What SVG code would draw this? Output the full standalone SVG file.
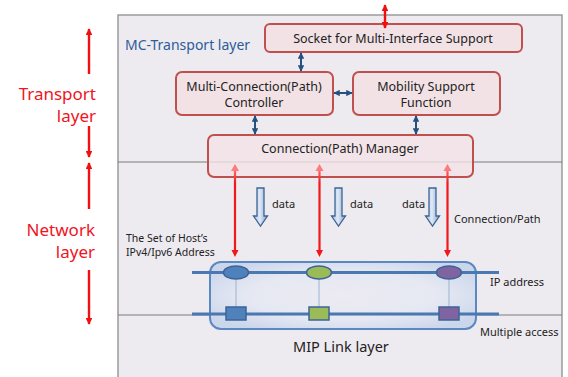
<svg xmlns="http://www.w3.org/2000/svg" width="568" height="377" viewBox="0 0 568 377">
<defs>
<style>
.t{font-family:"Noto Sans","Open Sans",sans-serif;fill:#222}
.red{font-family:"Noto Sans","Open Sans",sans-serif;fill:#f0141e;font-size:17px;text-anchor:end}
.box{fill:#f2e2e6;stroke:#c0504d;stroke-width:2}
.ba{stroke:#25507f;stroke-width:2;marker-start:url(#bh);marker-end:url(#bh)}
.ra{stroke:#f01010;stroke-width:2.4}
.da{fill:url(#dg);stroke:#3c6494;stroke-width:1.3}
.bl{stroke:#4a79b2;stroke-width:3}
.vl{stroke:#a6bcd8;stroke-width:1.2}
.gl{stroke:url(#rg);stroke-width:2.2;fill:none}
</style>
<marker id="bh" viewBox="0 0 10 10" refX="9" refY="5" markerWidth="3.2" markerHeight="3.2" orient="auto-start-reverse"><path d="M0,0L10,5L0,10z" fill="#25507f"/></marker>
<marker id="rh" viewBox="0 0 10 10" refX="9" refY="5" markerWidth="2.8" markerHeight="2.8" orient="auto-start-reverse"><path d="M0,0L10,5L0,10z" fill="#f01010"/></marker>
<linearGradient id="dg" x1="0" x2="1" y1="0" y2="0"><stop offset="0" stop-color="#a9c0e0"/><stop offset="0.45" stop-color="#e0e9f6"/><stop offset="1" stop-color="#85a4cf"/></linearGradient>
<linearGradient id="rg" gradientUnits="userSpaceOnUse" x1="0" x2="0" y1="165" y2="256"><stop offset="0" stop-color="#ff8a8a"/><stop offset="0.2" stop-color="#f01818"/><stop offset="1" stop-color="#f01818"/></linearGradient>
<radialGradient id="mg" cx="0.5" cy="0.5" r="0.6"><stop offset="0" stop-color="#eceaf2"/><stop offset="0.6" stop-color="#e4e8f3"/><stop offset="1" stop-color="#c5d2ea"/></radialGradient>
</defs>
<rect width="568" height="377" fill="#fff"/>
<g id="panel">
<rect x="118" y="15" width="444" height="365" fill="#edebf0" stroke="#9a9a9a" stroke-width="1.5"/>
<line x1="118" y1="162" x2="562" y2="162" stroke="#7a7a7a" stroke-width="1"/>
<line x1="118" y1="315" x2="562" y2="315" stroke="#7a7a7a" stroke-width="1"/>
<text class="t" x="125" y="50" font-size="14" style="fill:#2e5c9a">MC-Transport layer</text>
</g>
<g id="left-labels">
<text class="red" x="96" y="100">Transport</text>
<text class="red" x="96" y="122">layer</text>
<text class="red" x="95" y="236">Network</text>
<text class="red" x="95" y="258">layer</text>
</g>
<g id="socket"><rect class="box" x="265" y="24" width="257" height="28" rx="5"/><text class="t" x="393" y="43" font-size="12.5" text-anchor="middle">Socket for Multi-Interface Support</text></g>
<g id="mcc"><rect class="box" x="176" y="72" width="157" height="43" rx="6"/><text class="t" x="254" y="91" font-size="12.5" text-anchor="middle">Multi-Connection(Path)</text><text class="t" x="254" y="107" font-size="12.5" text-anchor="middle">Controller</text></g>
<g id="msf"><rect class="box" x="353" y="72" width="147" height="43" rx="6"/><text class="t" x="426" y="91" font-size="12.5" text-anchor="middle">Mobility Support</text><text class="t" x="426" y="107" font-size="12.5" text-anchor="middle">Function</text></g>
<g id="manager"><rect class="box" x="208" y="135" width="265" height="42" rx="6" style="fill-opacity:0.8"/><text class="t" x="340" y="153" font-size="12.5" text-anchor="middle">Connection(Path) Manager</text></g>
<g id="mip">
<rect x="210" y="262" width="266" height="67" rx="11" fill="url(#mg)" fill-opacity="0.85" stroke="#5a88c2" stroke-width="2"/>
<line class="bl" x1="192" y1="272.5" x2="499" y2="272.5"/>
<line class="bl" x1="192" y1="314" x2="499" y2="314"/>
<line class="vl" x1="236" y1="272" x2="236" y2="314"/>
<line class="vl" x1="319" y1="272" x2="319" y2="314"/>
<line class="vl" x1="449" y1="272" x2="449" y2="314"/>
<ellipse cx="236" cy="272.5" rx="12.5" ry="6.5" fill="#4f81bd" stroke="#3d6496" stroke-width="1.5"/>
<ellipse cx="319" cy="272.5" rx="12.5" ry="6.5" fill="#9bbb59" stroke="#3d6496" stroke-width="1.5"/>
<ellipse cx="449" cy="272.5" rx="12.5" ry="6.5" fill="#8064a2" stroke="#3d6496" stroke-width="1.5"/>
<rect x="226" y="307" width="20" height="13" fill="#4f81bd" stroke="#3d6496" stroke-width="1.5"/>
<rect x="309" y="307" width="20" height="13" fill="#9bbb59" stroke="#3d6496" stroke-width="1.5"/>
<rect x="439" y="307" width="20" height="13" fill="#8064a2" stroke="#3d6496" stroke-width="1.5"/>
<text class="t" x="293" y="352" font-size="14.5">MIP Link layer</text>
</g>
<g id="labels">
<text class="t" x="126" y="242" font-size="10.5">The Set of Host’s</text>
<text class="t" x="126" y="256" font-size="10.5">IPv4/Ipv6 Address</text>
<text class="t" x="272" y="208" font-size="11">data</text>
<text class="t" x="350" y="208" font-size="11">data</text>
<text class="t" x="402" y="208" font-size="11">data</text>
<text class="t" x="454" y="223" font-size="11">Connection/Path</text>
<text class="t" x="490" y="286" font-size="11">IP address</text>
<text class="t" x="480" y="336" font-size="11">Multiple access</text>
</g>
<g id="connectors">
<line class="ra" x1="89" y1="74" x2="89" y2="29" marker-end="url(#rh)"/>
<line class="ra" x1="89" y1="126" x2="89" y2="157" marker-end="url(#rh)"/>
<line class="ra" x1="89" y1="209" x2="89" y2="163" marker-end="url(#rh)"/>
<line class="ra" x1="89" y1="270" x2="89" y2="324" marker-end="url(#rh)"/>
<line class="ra" x1="385" y1="5" x2="385" y2="28" marker-start="url(#rh)" marker-end="url(#rh)"/>
<line class="ba" x1="301" y1="53" x2="301" y2="71"/>
<line class="ba" x1="334" y1="93" x2="352" y2="93"/>
<line class="ba" x1="255" y1="116" x2="255" y2="134"/>
<line class="ba" x1="416" y1="116" x2="416" y2="134"/>
<path class="gl" d="M235,169V252"/>
<path class="gl" d="M319.5,169V252"/>
<path class="gl" d="M447.5,169V252"/>
<path d="M231,171L235,164L239,171z M315.5,171L319.5,164L323.5,171z M443.5,171L447.5,164L451.5,171z" fill="#ff7a7a"/>
<path d="M231.5,250L235,257L238.5,250z M316,250L319.5,257L323,250z M444,250L447.5,257L451,250z" fill="#f01818"/>
<path class="da" d="M257,188H264V216H267.5L260.5,226L253.5,216H257z"/>
<path class="da" d="M335,188H342V216H345.5L338.5,226L331.5,216H335z"/>
<path class="da" d="M429,188H436V216H439.5L432.5,226L425.5,216H429z"/>
</g>
</svg>
